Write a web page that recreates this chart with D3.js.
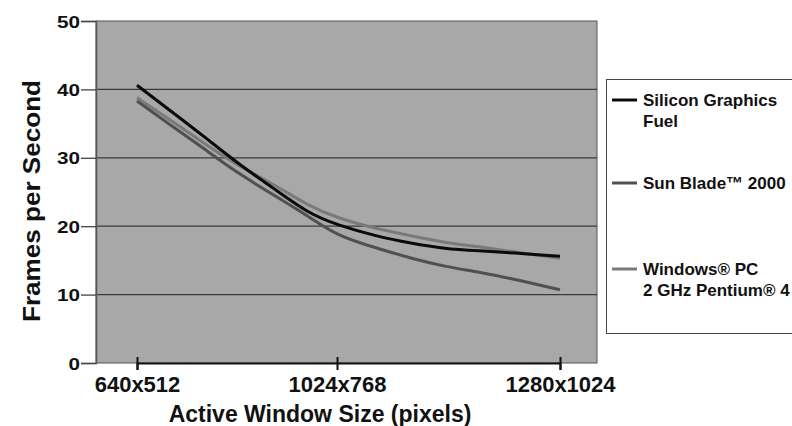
<!DOCTYPE html>
<html>
<head>
<meta charset="utf-8">
<script src="https://cdn.jsdelivr.net/npm/d3@7"></script>
<style>
  body { margin: 0; background: #fff; }
  svg { display: block; font-family: "Liberation Sans", Arial, sans-serif; font-weight: bold; }
</style>
</head>
<body>
<script>
// frames per second vs window size, three workstations

// data
var pixelCounts = [327680, 400000, 480000, 560000, 640000, 720000, 786432, 880000, 960000, 1040000, 1120000, 1200000, 1310720];
var sgiFuel   = [40.6, 37.1, 33.2, 29.1, 25.6, 21.9, 20.2, 18.5, 17.5, 16.7, 16.4, 16.1, 15.6];
var sunBlade  = [38.3, 35.0, 31.4, 27.7, 24.6, 21.5, 18.6, 16.8, 15.3, 14.1, 13.3, 12.3, 10.7];
var windowsPc = [38.8, 35.7, 32.2, 28.8, 26.2, 23.0, 21.2, 19.6, 18.6, 17.6, 17.0, 16.3, 15.3];

var xTicks = [327680, 786432, 1310720];
var xTickLabels = ["640x512", "1024x768", "1280x1024"];
var yTicks = [0, 10, 20, 30, 40, 50];

var seriesLabels = [["Silicon Graphics", "Fuel"], ["Sun Blade\u2122 2000"], ["Windows\u00ae PC", "2 GHz Pentium\u00ae 4"]];
var seriesColors = ["#0a0a0a", "#505050", "#7a7a7a"];

var margin = {top: 21, left: 96},
    width = 501,
    height = 342;

var svg = d3.select("body").append("svg")
    .attr("width", 792)
    .attr("height", 426);

var g = svg.append("g")
    .attr("transform", "translate(" + margin.left + "," + margin.top + ")");

// scales (x is piecewise on pixel count)
var x = d3.scaleLinear()
    .domain(xTicks)
    .range([41, 241, 464]);
var y = d3.scaleLinear()
    .domain([0, 50])
    .range([height, 0]);

// plot background
g.append("rect")
    .attr("width", width)
    .attr("height", height)
    .style("fill", "#a8a8a8")
    .style("stroke", "#555")
    .style("stroke-width", 1);

// gridlines
g.selectAll(".grid")
    .data(yTicks.slice(1, 5))
  .enter().append("line")
    .attr("class", "grid")
    .attr("x1", 0)
    .attr("x2", width)
    .attr("y1", function(d) { return y(d); })
    .attr("y2", function(d) { return y(d); })
    .style("stroke", "#3a3a3a")
    .style("stroke-width", 1.3);

// lines
var line = d3.line()
    .x(function(d) { return x(d[0]); })
    .y(function(d) { return y(d[1]); })
    .curve(d3.curveBasis);

var series = [sgiFuel, sunBlade, windowsPc];
// draw the grays first so black sits on top
[2, 1, 0].forEach(function(i) {
  g.append("path")
      .datum(pixelCounts.map(function(p, j) { return [p, series[i][j]]; }))
      .attr("d", line)
      .style("fill", "none")
      .style("stroke", seriesColors[i])
      .style("stroke-width", 3);
});

// y axis
var yAxis = g.append("g")
    .call(d3.axisLeft(y).tickValues(yTicks).tickSize(15).tickPadding(1));
yAxis.select(".domain").style("stroke", "#555").style("stroke-width", 1.5);
yAxis.selectAll(".tick line").style("stroke", "#444").style("stroke-width", 1.3);
yAxis.selectAll(".tick text")
    .style("font-size", "17px")
    .style("font-weight", "bold")
    .style("font-family", "Liberation Sans, Arial, sans-serif")
    .style("fill", "#111")
    .attr("textLength", function(d) { return String(d).length * 11.5; })
    .attr("lengthAdjust", "spacingAndGlyphs")
    .attr("dy", "0.36em");

// x axis
var xAxis = g.append("g")
    .attr("transform", "translate(0," + height + ")")
    .call(d3.axisBottom(x).tickValues(xTicks)
      .tickFormat(function(d, i) { return xTickLabels[i]; })
      .tickSize(7).tickPadding(6));
xAxis.select(".domain").style("stroke", "#111").style("stroke-width", 2);
xAxis.selectAll(".tick line")
    .attr("y1", -6)
    .style("stroke", "#111")
    .style("stroke-width", 2);
xAxis.selectAll(".tick text")
    .style("font-size", "22px")
    .style("font-weight", "bold")
    .style("font-family", "Liberation Sans, Arial, sans-serif")
    .style("fill", "#111");

// axis titles
svg.append("text")
    .attr("transform", "translate(40,201) rotate(-90)")
    .attr("text-anchor", "middle")
    .attr("textLength", 242)
    .attr("lengthAdjust", "spacingAndGlyphs")
    .style("font-size", "23px")
    .style("fill", "#111")
    .text("Frames per Second");

svg.append("text")
    .attr("x", 320)
    .attr("y", 422)
    .attr("text-anchor", "middle")
    .style("font-size", "23px")
    .style("fill", "#111")
    .text("Active Window Size (pixels)");

// legend
var legend = svg.append("g")
    .attr("transform", "translate(606,79)");

legend.append("rect")
    .attr("x", 0.5)
    .attr("y", 0.5)
    .attr("width", 200)
    .attr("height", 254)
    .style("fill", "#fff")
    .style("stroke", "#444")
    .style("stroke-width", 1);

var legendY = [21, 104, 190];

var items = legend.selectAll(".item")
    .data(seriesLabels)
  .enter().append("g")
    .attr("class", "item")
    .attr("transform", function(d, i) { return "translate(0," + legendY[i] + ")"; });

items.append("line")
    .attr("x1", 6)
    .attr("x2", 31)
    .style("stroke", function(d, i) { return seriesColors[i]; })
    .style("stroke-width", 3);

items.append("text")
    .attr("x", 37)
    .attr("y", 6)
    .style("font-size", "17px")
    .style("fill", "#111")
  .selectAll("tspan")
    .data(function(d) { return d; })
  .enter().append("tspan")
    .attr("x", 37)
    .attr("dy", function(d, i) { return i ? 21 : 0; })
    .text(function(d) { return d; });
</script>
</body>
</html>
